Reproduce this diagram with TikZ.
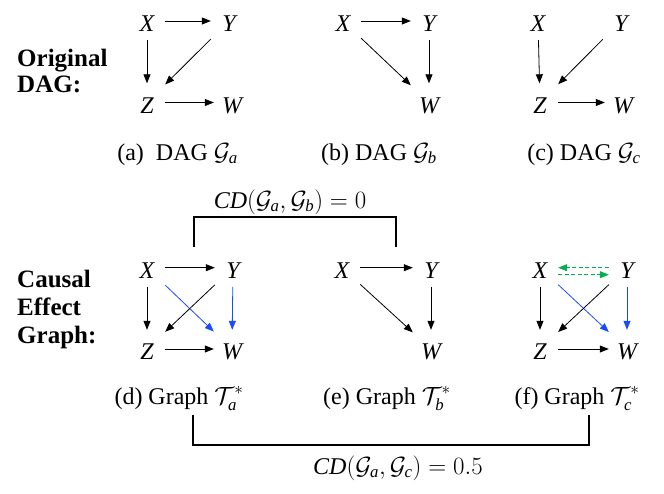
\documentclass[tikz,border=0pt]{standalone}
\usepackage{amsmath}
\usepackage{fontspec}
\setmainfont{Liberation Serif}
\usetikzlibrary{arrows.meta}
\definecolor{cblue}{RGB}{25,75,255}
\definecolor{cgreen}{RGB}{0,176,80}
\begin{document}
\begin{tikzpicture}[x=1pt,y=-1pt,
  vnode/.style={inner sep=0pt, minimum width=36pt, minimum height=38pt, text height=21pt, text depth=0pt, font=\fontsize{24}{28}\selectfont\itshape},
  arr/.style={line width=0.8pt, -{Triangle[length=9pt,width=7pt]}},
  barr/.style={arr, draw=cblue, -{Triangle[length=9pt,width=7pt,fill=cblue]}},
  garr/.style={line width=0.8pt, draw=cgreen, dash pattern=on 4pt off 2.5pt, -{Triangle[length=9pt,width=7pt,fill=cgreen]}},
  captxt/.style={anchor=base, inner sep=0pt, font=\fontsize{24}{28}\selectfont},
  sidelab/.style={anchor=base west, inner sep=0pt, font=\fontsize{25}{28}\selectfont\bfseries},
  bracket/.style={line width=1.8pt}
]
\useasboundingbox (0,0) rectangle (664,493);

% side labels
\node[sidelab] (o1) at (17,66) {Original};
\node[sidelab] (o2) at (17,92) {DAG:};
\node[sidelab] (c1) at (17,287) {Causal};
\node[sidelab] (c2) at (17,315) {Effect};
\node[sidelab] (c3) at (17,343) {Graph:};

% graph a
\node[vnode] (aX) at (147,21) {X};
\node[vnode] (aY) at (229,21) {Y};
\node[vnode] (aZ) at (147,102.5) {Z};
\node[vnode] (aW) at (232,102.5) {W};
\draw[arr] (aX) -- (aY);
\draw[arr] (aX) -- (aZ);
\draw[arr] (aY) -- (aZ);
\draw[arr] (aZ) -- (aW);
\node[captxt] (acap) at (177.5,160) {(a)~~DAG $\mathcal{G}_{\textit{a}}$};

% graph b
\node[vnode] (bX) at (343,21) {X};
\node[vnode] (bY) at (429,21) {Y};
\node[vnode] (bW) at (429,102.5) {W};
\draw[arr] (bX) -- (bY);
\draw[arr] (bX) -- (bW);
\draw[arr] (bY) -- (bW);
\node[captxt] (bcap) at (379,160) {(b) DAG $\mathcal{G}_{\textit{b}}$};

% graph c
\node[vnode] (cX) at (538,21) {X};
\node[vnode] (cY) at (621,21) {Y};
\node[vnode] (cZ) at (540,102.5) {Z};
\node[vnode] (cW) at (623,102.5) {W};
\draw[arr] (cX) -- (cZ);
\draw[arr] (cY) -- (cZ);
\draw[arr] (cZ) -- (cW);
\node[captxt] (ccap) at (584,160) {(c) DAG $\mathcal{G}_{\textit{c}}$};

% graph d
\node[vnode] (dX) at (147,267.7) {X};
\node[vnode] (dY) at (233,267.7) {Y};
\node[vnode] (dZ) at (147,349) {Z};
\node[vnode] (dW) at (232,349) {W};
\draw[arr] (dX) -- (dY);
\draw[arr] (dX) -- (dZ);
\draw[barr] (dX) -- (dW);
\draw[arr] (dY) -- (dZ);
\draw[barr] (dY) -- (dW);
\draw[arr] (dZ) -- (dW);
\node[captxt] (dcap) at (179,404) {(d) Graph $\mathcal{T}_{\textit{a}}^{*}$};

% graph e
\node[vnode] (eX) at (342,267.7) {X};
\node[vnode] (eY) at (431,267.7) {Y};
\node[vnode] (eW) at (431,349) {W};
\draw[arr] (eX) -- (eY);
\draw[arr] (eX) -- (eW);
\draw[arr] (eY) -- (eW);
\node[captxt] (ecap) at (387,404) {(e) Graph $\mathcal{T}_{\textit{b}}^{*}$};

% graph f
\node[vnode] (fX) at (540,267.7) {X};
\node[vnode] (fY) at (627,267.7) {Y};
\node[vnode] (fZ) at (540,349) {Z};
\node[vnode] (fW) at (627,349) {W};
\draw[garr] (fY.west) -- (fX.east);
\draw[garr] ([yshift=-7pt]fX.east) -- ([yshift=-7pt]fY.west);
\draw[arr] (fX) -- (fZ);
\draw[barr] (fX) -- (fW);
\draw[arr] (fY) -- (fZ);
\draw[barr] (fY) -- (fW);
\draw[arr] (fZ) -- (fW);
\node[captxt] (fcap) at (577,404) {(f) Graph $\mathcal{T}_{\textit{c}}^{*}$};

% top bracket
\coordinate (t1) at (194,247);
\coordinate (t2) at (396,247);
\draw[bracket] (t1) -- (194,217) -- (396,217) -- (t2);
\node[captxt] (tlab) at (290,208) {$\textit{CD}(\mathcal{G}_{\textit{a}},\mathcal{G}_{\textit{b}})=0$};

% bottom bracket
\coordinate (u1) at (193,415);
\coordinate (u2) at (589,415);
\draw[bracket] (u1) -- (193,445) -- (589,445) -- (u2);
\node[captxt] (ulab) at (398,474) {$\textit{CD}(\mathcal{G}_{\textit{a}},\mathcal{G}_{\textit{c}})=0.5$};
\end{tikzpicture}
\end{document}
